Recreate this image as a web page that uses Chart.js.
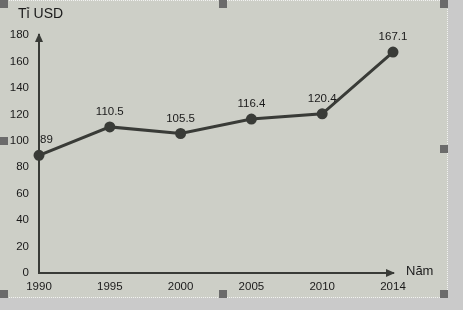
<!DOCTYPE html>
<html>
<head>
<meta charset="utf-8">
<script src="https://cdn.jsdelivr.net/npm/chart.js@4"></script>
<style>
  body { margin: 0; background: #cacaca; width: 463px; height: 310px; overflow: hidden; position: relative; }
  #frame {
    position: absolute; left: 0; top: 0; width: 448px; height: 298px;
    background: #cdcfc7; border-top: 1px dotted #f2f2f2; border-right: 1px dotted #f2f2f2; border-bottom: 1px dotted #f2f2f2;
    box-sizing: border-box;
  }
  #frame canvas { position: absolute; left: 0; top: 0; }
  .handle { position: absolute; width: 8px; height: 8px; background: #6b6b6b; }
  .note { position: absolute; font-family: "Liberation Sans", Arial, sans-serif; color: #1a1a1a; }
</style>
</head>
<body>
<div id="frame">
  <canvas id="chart" width="448" height="298"></canvas>
</div>
<div class="note" style="left:18px; top:5px; font-size:14px;">Tỉ USD</div>
<div class="note" style="left:406px; top:263px; font-size:13px;">Năm</div>
<div class="handle" style="left:0; top:0;"></div>
<div class="handle" style="left:219px; top:0;"></div>
<div class="handle" style="left:440px; top:0;"></div>
<div class="handle" style="left:0; top:137px;"></div>
<div class="handle" style="left:440px; top:145px;"></div>
<div class="handle" style="left:0; top:290px;"></div>
<div class="handle" style="left:219px; top:290px;"></div>
<div class="handle" style="left:440px; top:290px;"></div>
<script>
const years = ['1990', '1995', '2000', '2005', '2010', '2014'];
const values = [89, 110.5, 105.5, 116.4, 120.4, 167.1];
const yTicks = [0, 20, 40, 60, 80, 100, 120, 140, 160, 180];

const ink = '#393b37';
const font = { family: '"Liberation Sans", Arial, sans-serif', size: 11.5 };

// arrows at the ends of both axes
const axisArrows = {
    id: 'axisArrows',
    afterDraw(chart) {
        const { ctx, chartArea: a } = chart;
        ctx.save();
        ctx.fillStyle = ink;
        ctx.beginPath();
        ctx.moveTo(a.left, a.top - 2);
        ctx.lineTo(a.left - 4, a.top + 7);
        ctx.lineTo(a.left + 4, a.top + 7);
        ctx.closePath();
        ctx.fill();
        ctx.beginPath();
        ctx.moveTo(a.right + 2, a.bottom);
        ctx.lineTo(a.right - 7, a.bottom - 4);
        ctx.lineTo(a.right - 7, a.bottom + 4);
        ctx.closePath();
        ctx.fill();
        ctx.restore();
    }
};

// value labels above each point
const valueLabels = {
    id: 'valueLabels',
    afterDatasetsDraw(chart) {
        const { ctx } = chart;
        const meta = chart.getDatasetMeta(0);
        ctx.save();
        ctx.fillStyle = '#1a1a1a';
        ctx.font = '11.5px "Liberation Sans", Arial, sans-serif';
        ctx.textBaseline = 'middle';
        meta.data.forEach((pt, i) => {
            const v = chart.data.datasets[0].data[i];
            if (i === 0) {
                ctx.textAlign = 'left';
                ctx.fillText(String(v), pt.x + 1, pt.y - 15);
            } else {
                ctx.textAlign = 'center';
                ctx.fillText(String(v), pt.x, pt.y - 15);
            }
        });
        ctx.restore();
    }
};

new Chart(document.getElementById('chart'), {
    type: 'line',
    data: {
        labels: years,
        datasets: [{
            data: values,
            borderColor: ink,
            borderWidth: 3,
            backgroundColor: ink,
            pointBackgroundColor: ink,
            pointBorderColor: ink,
            pointRadius: 4,
            tension: 0,
            clip: false
        }]
    },
    options: {
        responsive: false,
        animation: false,
        layout: { padding: { top: 34, right: 55, bottom: 0, left: 0 } },
        plugins: { legend: { display: false }, tooltip: { enabled: false } },
        scales: {
            x: {
                offset: false,
                grid: { display: false, drawTicks: false },
                border: { color: ink, width: 2 },
                ticks: { color: '#1a1a1a', font: font, padding: 7, maxRotation: 0 },
                afterFit(scale) { scale.height = 26; }
            },
            y: {
                min: 0,
                max: 180,
                grid: { display: false, drawTicks: false },
                border: { color: ink, width: 2 },
                afterBuildTicks(scale) { scale.ticks = yTicks.map(v => ({ value: v })); },
                ticks: { color: '#1a1a1a', font: font, padding: 10 },
                afterFit(scale) { scale.width = 39; }
            }
        }
    },
    plugins: [axisArrows, valueLabels]
});
</script>
</body>
</html>
